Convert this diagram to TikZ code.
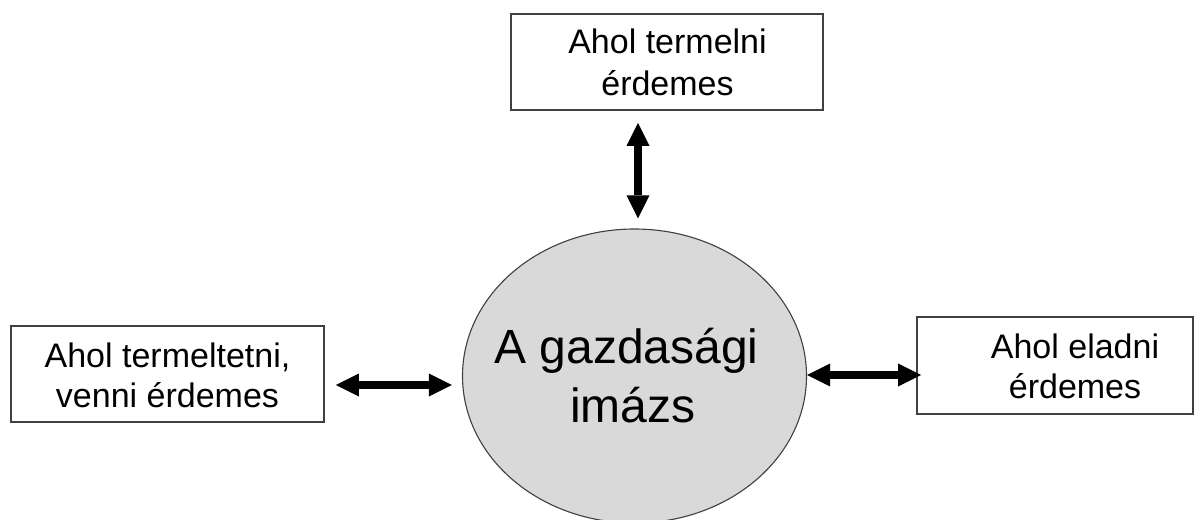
\documentclass[tikz,border=0pt]{standalone}
\usepackage{fontspec}
\setmainfont{Liberation Sans}
\usetikzlibrary{arrows.meta}
\definecolor{ellfill}{RGB}{217,217,217}
\definecolor{edge}{RGB}{64,64,64}
\newcommand\mylines[3]{\vtop{\baselineskip=#1\lineskiplimit=-100pt\lineskip=0pt\halign{\hfil##\hfil\cr#2\cr#3\cr}}}
\tikzset{
  boxnode/.style={draw=edge, line width=1.6pt, fill=white, rectangle, inner sep=0pt},
  ellnode/.style={draw=edge, line width=1.1pt, fill=ellfill, ellipse, inner sep=0pt},
  txt/.style={anchor=base, inner sep=0pt, font=\fontsize{34}{41}\selectfont},
  bigtxt/.style={anchor=base, inner sep=0pt, font=\fontsize{48}{59}\selectfont},
  dbl/.style={line width=8pt, {Triangle[length=23pt,width=23pt,line width=0pt]}-{Triangle[length=23pt,width=23pt,line width=0pt]}}
}
\usetikzlibrary{shapes.geometric}
\begin{document}
\begin{tikzpicture}[x=1pt,y=-1pt]
\useasboundingbox (0,0) rectangle (1198,519);
\begin{scope}
\clip (0,0) rectangle (1198,519);
\node[ellnode, minimum width=344pt, minimum height=294pt] (ell) at (634.5,376) {};
\end{scope}
\node[boxnode, minimum width=312pt, minimum height=96pt] (top) at (667,62) {};
\node[boxnode, minimum width=313pt, minimum height=96pt] (lb) at (167.5,374) {};
\node[boxnode, minimum width=276pt, minimum height=97pt] (rb) at (1055,365.5) {};
\node[txt] (toptext) at (667.5,54) {\mylines{41pt}{Ahol termelni}{érdemes}};
\node[txt] (lbtext) at (167.5,367) {\mylines{40pt}{Ahol termeltetni,}{venni érdemes}};
\node[txt] (rbtext) at (1075,358) {\mylines{40pt}{Ahol eladni}{érdemes}};
\node[bigtxt] (elltext) at (633,363) {\mylines{59pt}{A gazdasági\kern13pt}{imázs}};
\draw[dbl, shorten <=12pt, shorten >=10pt] (top.south -| 638,0) -- (ell.north -| 638,0);
\draw[dbl, shorten <=11pt, shorten >=10pt] (lb.east |- 0,385) -- (ell.west |- 0,385);
\draw[dbl, shorten <=0pt, shorten >=-5pt] (ell.east |- 0,375) -- (rb.west |- 0,375);
\end{tikzpicture}
\end{document}
